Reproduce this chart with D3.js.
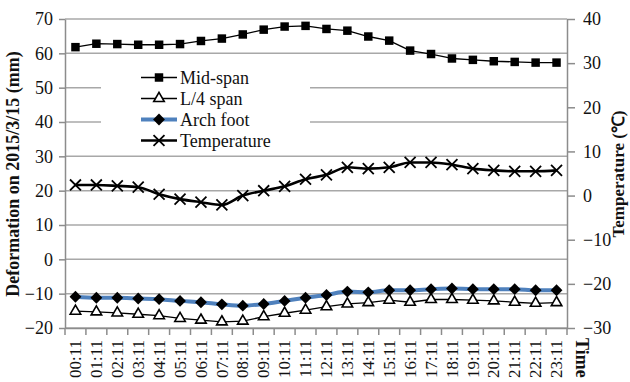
<!DOCTYPE html>
<html>
<head>
<meta charset="utf-8">
<script src="https://cdn.jsdelivr.net/npm/d3@7"></script>
<style>
  html, body { margin: 0; padding: 0; background: #fff; }
  svg { display: block; font-family: "Liberation Serif", "Times New Roman", serif; }
</style>
</head>
<body>
<svg id="chart" width="630" height="382"></svg>
<script>
// Hourly readings, 15 March 2015
const categories = ["00:11","01:11","02:11","03:11","04:11","05:11","06:11","07:11","08:11","09:11","10:11","11:11",
                    "12:11","13:11","14:11","15:11","16:11","17:11","18:11","19:11","20:11","21:11","22:11","23:11"];
const midSpan = [61.8,62.8,62.7,62.5,62.5,62.7,63.6,64.3,65.5,66.9,67.8,68.0,
                 67.1,66.6,64.9,63.7,60.8,59.8,58.5,58.1,57.7,57.5,57.3,57.3];
const quarterSpan = [-15.1,-15.3,-15.6,-16.0,-16.4,-17.2,-17.7,-18.2,-18.0,-16.7,-15.7,-14.8,
                     -13.8,-13.0,-12.6,-11.9,-12.5,-11.7,-11.7,-11.9,-12.1,-12.5,-12.8,-12.6];
const archFoot = [-10.9,-11.2,-11.2,-11.4,-11.6,-12.1,-12.5,-13.1,-13.5,-13.0,-12.1,-11.2,
                  -10.4,-9.4,-9.6,-9.0,-9.0,-8.7,-8.5,-8.7,-8.7,-8.7,-9.0,-9.0];
const temperature = [2.4,2.4,2.2,1.9,0.3,-0.8,-1.5,-2.1,0.0,1.1,2.1,3.7,
                     4.7,6.4,6.1,6.4,7.5,7.5,7.0,6.1,5.7,5.5,5.5,5.7];
const leftTicks = [-20,-10,0,10,20,30,40,50,60,70];
const rightTicks = [-30,-20,-10,0,10,20,30,40];

const svg = d3.select("#chart");
const plot = { left: 65, right: 567, top: 19, bottom: 328 };
const gridColor = "#a8a8a8";
const axisColor = "#8c8c8c";

const x = d3.scaleBand().domain(categories).range([plot.left, plot.right]).padding(0);
const xc = d => x(d) + x.bandwidth() / 2;
const yL = d3.scaleLinear().domain([-20, 70]).range([plot.bottom, plot.top]);
const yR = d3.scaleLinear().domain([-30, 40]).range([plot.bottom, plot.top]);

// horizontal gridlines on the deformation scale
svg.append("g").selectAll("line").data(leftTicks).join("line")
  .attr("x1", plot.left).attr("x2", plot.right)
  .attr("y1", d => yL(d)).attr("y2", d => yL(d))
  .attr("stroke", gridColor).attr("stroke-width", 1.5);

// left axis
const gL = svg.append("g").attr("transform", `translate(${plot.left},0)`)
  .call(d3.axisLeft(yL).tickValues(leftTicks).tickSize(6).tickSizeOuter(0).tickPadding(6));
gL.select(".domain").attr("stroke", axisColor).attr("stroke-width", 1.5);
gL.selectAll(".tick line").attr("stroke", axisColor).attr("stroke-width", 1.5);
gL.selectAll(".tick text").attr("font-size", 18).attr("fill", "#111")
  .attr("font-family", "Liberation Serif, serif");

// right axis
const gR = svg.append("g").attr("transform", `translate(${plot.right},0)`)
  .call(d3.axisRight(yR).tickValues(rightTicks).tickSize(8).tickSizeOuter(0).tickPadding(8));
gR.select(".domain").attr("stroke", axisColor).attr("stroke-width", 1.5);
gR.selectAll(".tick line").attr("stroke", axisColor).attr("stroke-width", 1.5);
gR.selectAll(".tick text").attr("font-size", 18).attr("fill", "#111")
  .attr("font-family", "Liberation Serif, serif");

// bottom axis: labels at category centres, tick marks at category boundaries
const gB = svg.append("g").attr("transform", `translate(0,${plot.bottom})`)
  .call(d3.axisBottom(x).tickSize(0).tickSizeOuter(0));
gB.select(".domain").attr("stroke", axisColor).attr("stroke-width", 1.5);
gB.selectAll(".tick text")
  .attr("font-size", 17).attr("fill", "#111").attr("font-family", "Liberation Serif, serif")
  .attr("transform", "rotate(-90)")
  .attr("text-anchor", "end").attr("dy", "0.33em").attr("x", -12).attr("y", 0);
svg.append("g").selectAll("line").data(categories.concat([null])).join("line")
  .attr("x1", (d, i) => plot.left + i * x.bandwidth())
  .attr("x2", (d, i) => plot.left + i * x.bandwidth())
  .attr("y1", plot.bottom).attr("y2", plot.bottom + 7)
  .attr("stroke", axisColor).attr("stroke-width", 1.5);

// axis titles
svg.append("text").attr("transform", `translate(19,174) rotate(-90)`)
  .attr("text-anchor", "middle").attr("font-size", 18).attr("font-weight", "bold")
  .attr("fill", "#111").text("Deformation on 2015/3/15 (mm)");
svg.append("text").attr("transform", `translate(624,174) rotate(-90)`)
  .attr("text-anchor", "middle").attr("font-size", 17).attr("font-weight", "bold")
  .attr("fill", "#111").text("Temperature (℃)");
svg.append("text").attr("transform", `translate(576,338) rotate(90)`)
  .attr("text-anchor", "start").attr("font-size", 18).attr("font-weight", "bold")
  .attr("fill", "#111").text("Time");

// marker shapes
const sq = d3.symbol().type(d3.symbolSquare).size(72);
const tri = d3.symbol().type(d3.symbolTriangle).size(48);
const dia = d3.symbol().type(d3.symbolSquare).size(70);
const cross = d3.symbol().type(d3.symbolTimes).size(80);

function drawMarker(g, kind, cx, cy) {
  if (kind === "sq") g.append("path").attr("d", sq()).attr("transform", `translate(${cx},${cy})`).attr("fill", "#000");
  if (kind === "tri") g.append("path").attr("d", tri()).attr("transform", `translate(${cx},${cy})`)
    .attr("fill", "#fff").attr("stroke", "#000").attr("stroke-width", 1.6);
  if (kind === "dia") g.append("path").attr("d", dia()).attr("transform", `translate(${cx},${cy}) rotate(45)`).attr("fill", "#000");
  if (kind === "x") g.append("path").attr("d", cross()).attr("transform", `translate(${cx},${cy})`)
    .attr("fill", "none").attr("stroke", "#000").attr("stroke-width", 1.8);
}

const series = [
  { name: "Mid-span", values: midSpan, y: yL, color: "#000", width: 1.3, marker: "sq", curve: d3.curveLinear },
  { name: "L/4 span", values: quarterSpan, y: yL, color: "#000", width: 1.3, marker: "tri", curve: d3.curveLinear },
  { name: "Arch foot", values: archFoot, y: yL, color: "#4f81bd", width: 4, marker: "dia", curve: d3.curveMonotoneX },
  { name: "Temperature", values: temperature, y: yR, color: "#000", width: 2.6, marker: "x", curve: d3.curveMonotoneX }
];

// legend box (white panel hides gridlines behind it)
const legend = svg.append("g");
legend.append("rect").attr("x", 101).attr("y", 58).attr("width", 209).attr("height", 94).attr("fill", "#fff");
series.forEach((s, i) => {
  const ly = 77.5 + i * 21;
  legend.append("line").attr("x1", 141).attr("x2", 177).attr("y1", ly).attr("y2", ly)
    .attr("stroke", s.color).attr("stroke-width", s.width);
  drawMarker(legend, s.marker, 159, ly);
  legend.append("text").attr("x", 180).attr("y", ly).attr("dy", "0.35em")
    .attr("font-size", 18).attr("fill", "#111").text(s.name);
});

// data lines and markers
series.forEach(s => {
  const line = d3.line().x((d, i) => xc(categories[i])).y(d => s.y(d)).curve(s.curve);
  svg.append("path").datum(s.values).attr("d", line)
    .attr("fill", "none").attr("stroke", s.color).attr("stroke-width", s.width)
    .attr("stroke-linejoin", "round");
  const g = svg.append("g");
  s.values.forEach((v, i) => drawMarker(g, s.marker, xc(categories[i]), s.y(v)));
});
</script>
</body>
</html>
